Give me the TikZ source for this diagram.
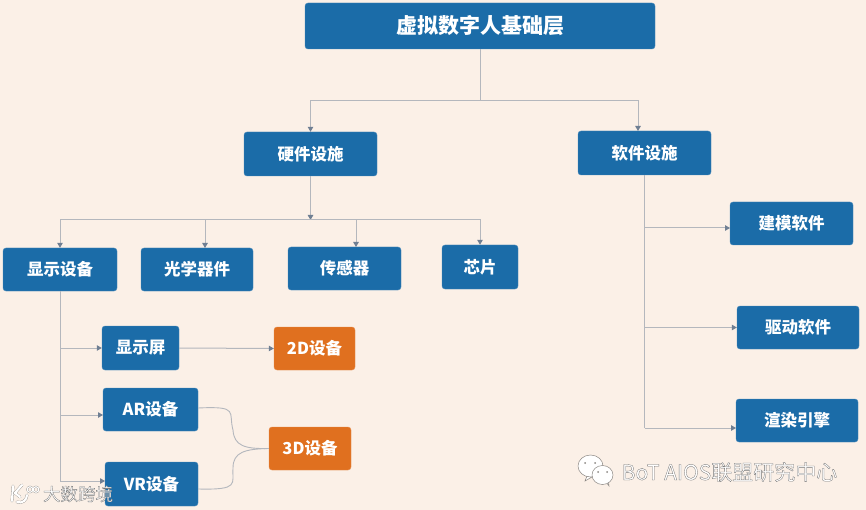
\documentclass[tikz,border=0pt]{standalone}
\usepackage{fontspec}
\setmainfont{Noto Sans CJK SC}
\usetikzlibrary{arrows.meta,calc}
\definecolor{paper}{HTML}{FBF0E7}
\definecolor{boxblue}{HTML}{1B6CA8}
\definecolor{boxorange}{HTML}{E0701F}
\definecolor{wire}{HTML}{B4B7BD}
\definecolor{tipgray}{HTML}{6F7F93}
\definecolor{markgray}{HTML}{8A8682}
\newcommand{\marktext}[1]{\special{pdf:literal 2 Tr 0.3 w 0.45 G 1 g}#1\special{pdf:literal 0 Tr}}

\begin{document}
\begin{tikzpicture}[x=1pt,y=-1pt,>={Triangle[length=5pt,width=5.5pt,color=tipgray]},
  bluebox/.style={fill=boxblue,draw=boxblue!80!white,rounded corners=3pt,text=white,font=\bfseries\fontsize{16.5}{18}\selectfont,inner sep=0pt},
  orangebox/.style={bluebox,fill=boxorange,draw=boxorange!80!white},
  wireline/.style={draw=wire,line width=1pt},
  logoline/.style={draw=markgray,double=white,double distance=2.2pt,line width=.3pt,line cap=round}]
  \fill[paper] (0,0) rectangle (866,510);
  % 节点
  \node[bluebox,minimum width=350pt,minimum height=46pt,font=\bfseries\fontsize{21}{24}\selectfont] (Base) at (480,26) {虚拟数字人基础层};
  \node[bluebox,minimum width=133pt,minimum height=44pt] (Hard) at (310.5,154) {硬件设施};
  \node[bluebox,minimum width=133pt,minimum height=44pt] (Soft) at (644.5,153) {软件设施};
  \node[bluebox,minimum width=114pt,minimum height=43pt] (Display) at (60,269.5) {显示设备};
  \node[bluebox,minimum width=112pt,minimum height=43pt] (Optic) at (197,269.5) {光学器件};
  \node[bluebox,minimum width=113pt,minimum height=43pt] (Sensor) at (344.5,268.5) {传感器};
  \node[bluebox,minimum width=76pt,minimum height=44pt] (Chip) at (480,267) {芯片};
  \node[bluebox,minimum width=123pt,minimum height=43pt] (Model) at (791.5,223.5) {建模软件};
  \node[bluebox,minimum width=122pt,minimum height=43pt] (Drive) at (798,327.5) {驱动软件};
  \node[bluebox,minimum width=122pt,minimum height=43pt] (Render) at (797,420.5) {渲染引擎};
  \node[bluebox,minimum width=77pt,minimum height=44pt] (Screen) at (140.5,348) {显示屏};
  \node[bluebox,minimum width=95pt,minimum height=43pt] (AR) at (150.5,409.5) {AR设备};
  \node[bluebox,minimum width=93pt,minimum height=44pt] (VR) at (151.5,484) {VR设备};
  \node[orangebox,minimum width=81pt,minimum height=43pt] (TwoD) at (314.5,348.5) {2D设备};
  \node[orangebox,minimum width=82pt,minimum height=43pt] (ThreeD) at (310,448.5) {3D设备};
  % 总线
  \coordinate (TopBus) at (480,101);
  \coordinate (SoftIn) at (638,131);
  \coordinate (HardBus) at (310.5,220);
  \coordinate (OpticIn) at (205,248);
  \coordinate (SensorIn) at (356,247);
  \coordinate (DispEnd) at (60,481);
  \coordinate (SoftEnd) at (644.5,428);
  \coordinate (ARIn) at (103,415);
  \coordinate (VRIn) at (105,481);
  \coordinate (ModelIn) at (730,228);
  \coordinate (RenderIn) at (736,428);
  % 连线
  \draw[wireline] (Base.south) -- (TopBus);
  \draw[wireline,->] (TopBus) -| (Hard.north);
  \draw[wireline,->] (TopBus) -| (SoftIn);
  \draw[wireline,->] (Hard.south) -- (HardBus);
  \draw[wireline,->] (HardBus) -| (Display.north);
  \draw[wireline,->] (HardBus) -| (OpticIn);
  \draw[wireline,->] (HardBus) -| (SensorIn);
  \draw[wireline,->] (HardBus) -| (Chip.north);
  \draw[wireline] (Soft.south) -- (SoftEnd);
  \draw[wireline,->] (Soft.south |- ModelIn) -- (ModelIn);
  \draw[wireline,->] (Soft.south |- Drive.west) -- (Drive.west);
  \draw[wireline,->] (SoftEnd) -- (RenderIn);
  \draw[wireline] (Display.south) -- (DispEnd);
  \draw[wireline,->] (Display.south |- Screen.west) -- (Screen.west);
  \draw[wireline,->] (Display.south |- ARIn) -- (ARIn);
  \draw[wireline,->] (DispEnd) -- (VRIn);
  \draw[wireline,->] (Screen.east) -- (TwoD.west);
  \draw[wireline,line width=.9pt] ($(AR.east)+(0,-1.5)$) .. controls (240,406) and (228,412) .. (233,430) .. controls (234,446) and (245,449) .. (ThreeD.west);
  \draw[wireline,line width=.9pt] ($(VR.east)+(0,5)$) .. controls (240,490) and (232,484) .. (233,468) .. controls (233,452) and (245,449) .. (ThreeD.west);
  % 水印
  \draw[logoline] (13,486) -- (12,501);
  \draw[logoline] (22,485) -- (15,493) -- (20,497);
  \draw[logoline] (17,502) .. controls (22,504) and (27,500) .. (27,495);
  \draw[logoline,double distance=1.2pt] (30,489.5) circle (2.8) (36,489.5) circle (2.8);
  \node[text=white,font=\fontsize{17.5}{20}\selectfont,inner sep=0pt] (MarkLeft) at (78,494) {\marktext{大数跨境}};
  \draw[fill=white,draw=markgray,line width=.5pt] (587,476) -- (585,481) -- (592,477) -- cycle;
  \draw[fill=white,draw=markgray,line width=.5pt] (590.5,466) ellipse (12.5 and 11);
  \draw[fill=white,draw=markgray,line width=.5pt] (606,482) -- (609,486) -- (608,479) -- cycle;
  \draw[fill=white,draw=markgray,line width=.5pt] (602.5,475) ellipse (10.5 and 9.5);
  \fill[markgray] (585,463) circle (1) (595,463) circle (1) (598,472) circle (1) (607,472) circle (1);
  \node[text=white,font=\fontsize{21}{24}\selectfont,inner sep=0pt] (MarkRight) at (729.5,472) {\marktext{BoT AIOS联盟研究中心}};
\end{tikzpicture}
\end{document}
